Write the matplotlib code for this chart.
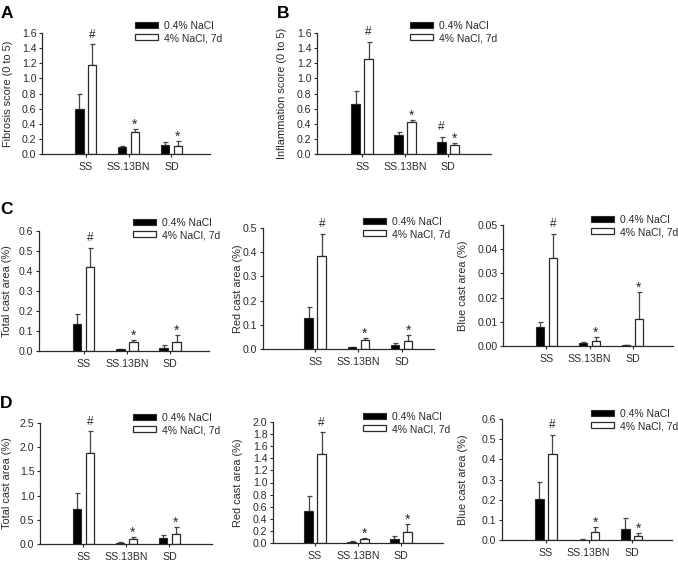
import matplotlib
matplotlib.use("Agg")
import matplotlib.pyplot as plt
import numpy as np

plt.rcParams['font.family'] = ['Liberation Sans', 'DejaVu Sans']

groups = ['SS', 'SS.13BN', 'SD']
legend_labels = ['0.4% NaCl', '4% NaCl, 7d']

# A - fibrosis score
fib_low = [0.60, 0.09, 0.12]
fib_low_err = [0.19, 0.02, 0.04]
fib_high = [1.18, 0.29, 0.11]
fib_high_err = [0.27, 0.04, 0.06]
fib_low_marks = ['', '', '']
fib_high_marks = ['#', '*', '*']

# B - inflammation score
infl_low = [0.66, 0.25, 0.16]
infl_low_err = [0.17, 0.04, 0.07]
infl_high = [1.26, 0.42, 0.12]
infl_high_err = [0.22, 0.03, 0.03]
infl_low_marks = ['', '', '#']
infl_high_marks = ['#', '*', '*']

# C - cast areas (row 2)
c_total_low = [0.135, 0.008, 0.017]
c_total_low_err = [0.05, 0.003, 0.012]
c_total_high = [0.42, 0.043, 0.045]
c_total_high_err = [0.095, 0.01, 0.037]

c_red_low = [0.127, 0.007, 0.015]
c_red_low_err = [0.048, 0.003, 0.011]
c_red_high = [0.383, 0.037, 0.033]
c_red_high_err = [0.094, 0.01, 0.025]

c_blue_low = [0.0077, 0.0011, 0.0003]
c_blue_low_err = [0.0024, 0.0004, 0.0002]
c_blue_high = [0.0362, 0.0022, 0.0113]
c_blue_high_err = [0.0101, 0.0016, 0.0112]

# D - cast areas (row 3)
d_total_low = [0.72, 0.028, 0.124]
d_total_low_err = [0.33, 0.007, 0.066]
d_total_high = [1.89, 0.10, 0.20]
d_total_high_err = [0.44, 0.05, 0.16]

d_red_low = [0.526, 0.022, 0.066]
d_red_low_err = [0.25, 0.006, 0.054]
d_red_high = [1.47, 0.066, 0.18]
d_red_high_err = [0.36, 0.024, 0.14]

d_blue_low = [0.202, 0.002, 0.056]
d_blue_low_err = [0.085, 0.001, 0.052]
d_blue_high = [0.428, 0.041, 0.018]
d_blue_high_err = [0.094, 0.022, 0.015]

cast_low_marks = ['', '', '']
cast_high_marks = ['#', '*', '*']

W, H = 678, 563
fig = plt.figure(figsize=(W / 100, H / 100), dpi=100)

ink = '#2a2a2a'


def px_axes(x0, x1, ytop, ybot):
    return fig.add_axes([x0 / W, 1 - ybot / H, (x1 - x0) / W, (ybot - ytop) / H])


def panel(ax, low, low_err, high, high_err, low_marks, high_marks,
          ymax, step, fmt, ylabel, xlim, label_off, leg_xy):
    x = np.arange(1, len(groups) + 1)
    off, bw = 0.15, 0.2
    ax.bar(x - off, low, bw, color='black', edgecolor=ink, linewidth=0.8, zorder=2)
    ax.bar(x + off, high, bw, color='white', edgecolor=ink, linewidth=0.9, zorder=2)
    ax.errorbar(x - off, low, yerr=[np.zeros(3), low_err], fmt='none',
                ecolor='#444444', elinewidth=0.9, capsize=1.8, capthick=0.9, zorder=1)
    ax.errorbar(x + off, high, yerr=[np.zeros(3), high_err], fmt='none',
                ecolor='#444444', elinewidth=0.9, capsize=1.8, capthick=0.9, zorder=1)
    for xs, vals, errs, marks in [(x - off, low, low_err, low_marks),
                                  (x + off, high, high_err, high_marks)]:
        for xi, v, e, m in zip(xs, vals, errs, marks):
            if not m:
                continue
            dy = 7 if m == '#' else 3
            fs = 8.5 if m == '#' else 10
            ax.annotate(m, (xi, v + e), xytext=(0, dy), textcoords='offset points',
                        ha='center', va='center', fontsize=fs, color=ink)
    ax.set_xlim(*xlim)
    ax.set_ylim(0, ymax)
    ax.set_yticks(np.arange(0, ymax + step / 2, step))
    ax.yaxis.set_major_formatter(plt.FormatStrFormatter(fmt))
    ax.set_xticks(x)
    ax.set_xticklabels(groups)
    ax.tick_params(axis='both', labelsize=7.6, colors=ink, length=2.5, width=0.8)
    ax.tick_params(axis='y', pad=1.5)
    ax.tick_params(axis='x', pad=3)
    for s in ['top', 'right']:
        ax.spines[s].set_visible(False)
    for s in ['left', 'bottom']:
        ax.spines[s].set_color(ink)
        ax.spines[s].set_linewidth(0.9)
    ax.set_ylabel(ylabel, fontsize=7.9, color=ink)
    width_px = ax.get_position().width * W
    ax.yaxis.set_label_coords(label_off / width_px, 0.5)
    leg = ax.legend(legend_labels, loc='upper left',
                    bbox_to_anchor=(leg_xy[0] / W, 1 - leg_xy[1] / H),
                    bbox_transform=fig.transFigure, frameon=False, fontsize=7.5,
                    borderpad=0, borderaxespad=0, handlelength=2.2, handleheight=0.5,
                    handletextpad=0.55, labelspacing=0.2)
    for t in leg.get_texts():
        t.set_color(ink)


# row A/B
axA = px_axes(42, 210, 33, 154)
panel(axA, fib_low, fib_low_err, fib_high, fib_high_err, fib_low_marks, fib_high_marks,
      1.6, 0.2, '%.1f', 'Fibrosis score (0 to 5)', (-0.02, 3.9), -29, (135, 21))
axB = px_axes(317, 491, 33, 154)
panel(axB, infl_low, infl_low_err, infl_high, infl_high_err, infl_low_marks, infl_high_marks,
      1.6, 0.2, '%.1f', 'Inflammation score (0 to 5)', (-0.05, 4.0), -30, (410, 21))

# row C
axC1 = px_axes(39, 209, 231, 351)
panel(axC1, c_total_low, c_total_low_err, c_total_high, c_total_high_err,
      cast_low_marks, cast_high_marks, 0.6, 0.1, '%.1f', 'Total cast area (%)',
      (-0.03, 3.9), -27, (133, 218))
axC2 = px_axes(263, 434, 228, 349)
panel(axC2, c_red_low, c_red_low_err, c_red_high, c_red_high_err,
      cast_low_marks, cast_high_marks, 0.5, 0.1, '%.1f', 'Red cast area (%)',
      (-0.21, 3.75), -20, (363, 217))
axC3 = px_axes(503, 673, 225, 346)
panel(axC3, c_blue_low, c_blue_low_err, c_blue_high, c_blue_high_err,
      cast_low_marks, cast_high_marks, 0.05, 0.01, '%.2f', 'Blue cast area (%)',
      (-0.01, 3.94), -35, (591, 215))

# row D
axD1 = px_axes(40, 212, 423, 544)
panel(axD1, d_total_low, d_total_low_err, d_total_high, d_total_high_err,
      cast_low_marks, cast_high_marks, 2.5, 0.5, '%.1f', 'Total cast area (%)',
      (-0.01, 3.99), -28, (133, 413))
axD2 = px_axes(273, 443, 422, 543)
panel(axD2, d_red_low, d_red_low_err, d_red_high, d_red_high_err,
      cast_low_marks, cast_high_marks, 2.0, 0.2, '%.1f', 'Red cast area (%)',
      (0.02, 3.98), -30, (363, 412))
axD3 = px_axes(502, 672, 419, 540)
panel(axD3, d_blue_low, d_blue_low_err, d_blue_high, d_blue_high_err,
      cast_low_marks, cast_high_marks, 0.6, 0.1, '%.1f', 'Blue cast area (%)',
      (-0.02, 3.94), -34, (591, 409))

# panel letters
for letter, (lx, ly) in {'A': (1, 13), 'B': (277, 13), 'C': (0, 209), 'D': (0, 404)}.items():
    fig.text(lx / W, 1 - ly / H, letter, fontsize=12.5, fontweight='bold',
             color='black', ha='left', va='center')

fig.savefig('out.png', dpi=100)
